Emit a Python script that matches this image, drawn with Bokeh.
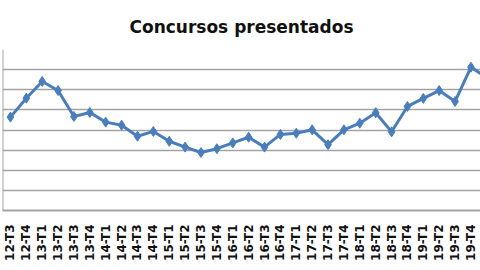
from bokeh.plotting import figure
from bokeh.models import Range1d, FixedTicker, Span
from bokeh.embed import file_html
from bokeh.resources import INLINE
import math

# Quarter labels (the last point, 20-T1, is cut off by the right edge in the reference)
quarters = ["12-T3", "12-T4", "13-T1", "13-T2", "13-T3", "13-T4",
            "14-T1", "14-T2", "14-T3", "14-T4", "15-T1", "15-T2",
            "15-T3", "15-T4", "16-T1", "16-T2", "16-T3", "16-T4",
            "17-T1", "17-T2", "17-T3", "17-T4", "18-T1", "18-T2",
            "18-T3", "18-T4", "19-T1", "19-T2", "19-T3", "19-T4", "20-T1"]
# Values (y axis labels are not visible in the reference)
concursos = [464, 558, 641, 596, 467, 487, 439, 424, 369, 393, 344, 315,
             288, 307, 336, 364, 315, 378, 384, 401, 327, 401, 434, 486,
             391, 517, 557, 596, 542, 712, 660]
grid_levels = [0, 100, 200, 300, 400, 500, 600, 700, 800]

xs = list(range(len(quarters)))

p = figure(width=480, height=270, output_backend="svg", toolbar_location=None,
           x_range=Range1d(-0.5, 29.6), y_range=Range1d(0, 800),
           min_border_left=2, min_border_right=0, min_border_top=49,
           min_border_bottom=60)

p.title.text = "Concursos presentados"
p.title.align = "center"
p.title.text_font = "DejaVu Sans"
p.title.text_font_style = "bold"
p.title.text_font_size = "17px"
p.title.text_color = "#111111"
p.title.standoff = 25

p.outline_line_color = None
p.background_fill_color = "white"
p.border_fill_color = "white"

p.yaxis.visible = False
p.ygrid.ticker = FixedTicker(ticks=grid_levels)
p.ygrid.grid_line_color = "#a3a3a3"
p.ygrid.grid_line_width = 1.6
p.xgrid.grid_line_color = None

p.xaxis.ticker = FixedTicker(ticks=xs[:-1])
p.xaxis.major_label_overrides = {i: q for i, q in enumerate(quarters)}
p.xaxis.major_label_orientation = math.pi / 2
p.xaxis.major_label_text_font = "DejaVu Sans"
p.xaxis.major_label_text_font_style = "bold"
p.xaxis.major_label_text_font_size = "12px"
p.xaxis.major_label_text_color = "#111111"
p.xaxis.major_tick_line_color = None
p.xaxis.minor_tick_line_color = None
p.xaxis.axis_line_color = "#a3a3a3"
p.xaxis.axis_line_width = 2
p.xaxis.major_label_standoff = 8

p.add_layout(Span(location=-0.5, dimension="height", line_color="#a3a3a3", line_width=2))

p.line(xs, concursos, line_color="#4a7ebb", line_width=3)
p.scatter(xs, concursos, marker="diamond", size=10, fill_color="#4a7ebb",
          line_color="#4a7ebb")

open("out.html", "w").write(file_html(p, INLINE))
